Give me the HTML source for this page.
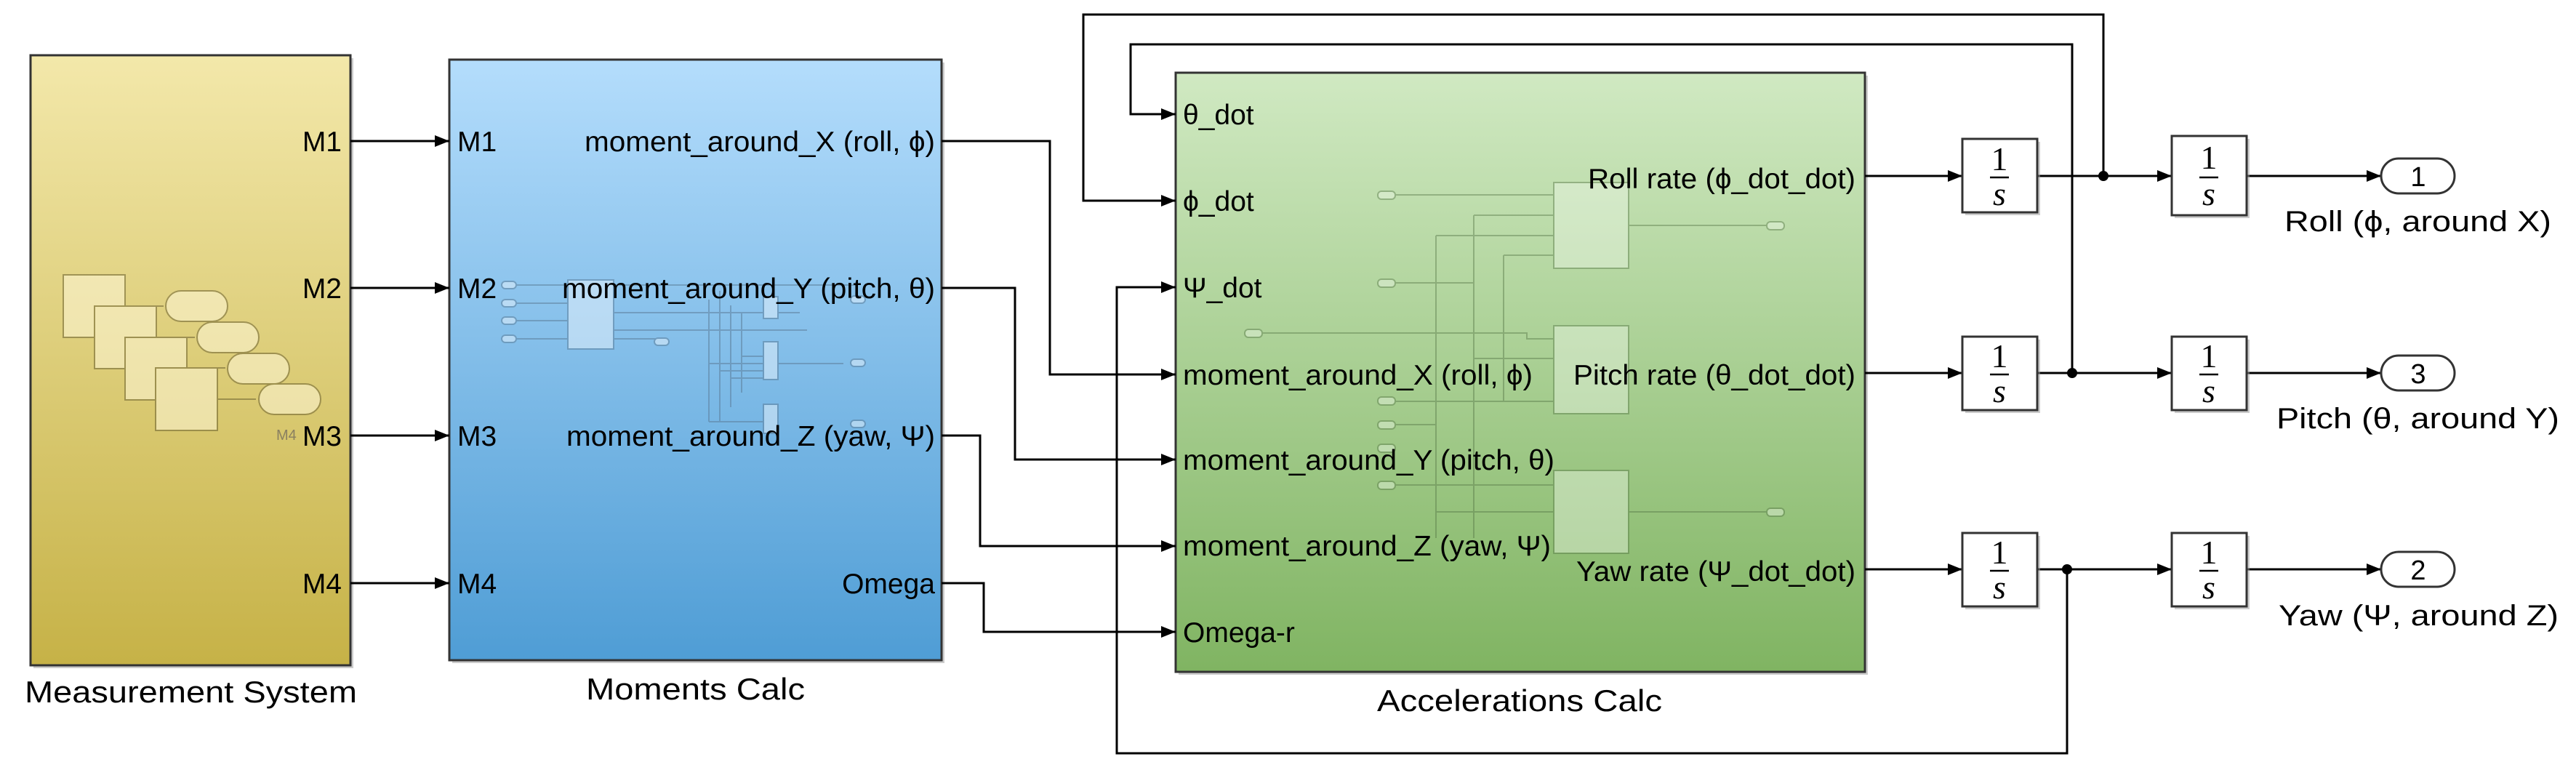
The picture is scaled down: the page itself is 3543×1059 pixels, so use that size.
<!DOCTYPE html>
<html><head><meta charset="utf-8"><style>html,body{margin:0;padding:0;background:#fff}svg{display:block}</style></head>
<body>
<svg width="3543" height="1059" viewBox="0 0 3543 1059" xmlns="http://www.w3.org/2000/svg" font-family="Liberation Sans, Arial, sans-serif">
<defs>
<linearGradient id="gy" x1="0" y1="0" x2="0" y2="1"><stop offset="0" stop-color="#f3e8aa"/><stop offset="1" stop-color="#c6b247"/></linearGradient>
<linearGradient id="gb" x1="0" y1="0" x2="0" y2="1"><stop offset="0" stop-color="#b4ddfc"/><stop offset="1" stop-color="#4f9dd5"/></linearGradient>
<linearGradient id="gg" x1="0" y1="0" x2="0" y2="1"><stop offset="0" stop-color="#d0e9c2"/><stop offset="1" stop-color="#80b462"/></linearGradient>
<marker id="ar" viewBox="0 0 20 16" refX="20" refY="8" markerWidth="20" markerHeight="16" markerUnits="userSpaceOnUse" orient="auto"><path d="M0,0 L20,8 L0,16 z" fill="#000"/></marker>
</defs>

<rect x="46" y="80" width="440" height="839" fill="#999" opacity="0.5"/>
<rect x="622" y="86" width="677" height="826" fill="#999" opacity="0.5"/>
<rect x="1621" y="104" width="948" height="824" fill="#999" opacity="0.5"/>

<rect x="42" y="76" width="440" height="839" fill="url(#gy)" stroke="#333" stroke-width="3"/>
<g opacity="0.55" stroke="#6b6030" stroke-width="2" fill="#fff8d8">
<rect x="87" y="378" width="85" height="86"/><rect x="130" y="421" width="85" height="86"/><rect x="172" y="464" width="85" height="86"/><rect x="214" y="506" width="85" height="86"/>
<rect x="228" y="400" width="85" height="42" rx="21"/><rect x="271" y="443" width="85" height="42" rx="21"/><rect x="313" y="486" width="85" height="42" rx="21"/><rect x="356" y="528" width="85" height="42" rx="21"/>
<path d="M172 421H225M215 464H268M257 506H310M299 549H352" fill="none"/>
</g>
<text x="380" y="605" font-size="20" fill="#8a8060">M4</text>
<g font-size="39" text-anchor="end" fill="#000">
<text x="470" y="208">M1</text><text x="470" y="410">M2</text><text x="470" y="613">M3</text><text x="470" y="816">M4</text>
</g>
<text x="34" y="966" font-size="42" textLength="457" lengthAdjust="spacingAndGlyphs">Measurement System</text>

<rect x="618" y="82" width="677" height="826" fill="url(#gb)" stroke="#333" stroke-width="3"/>
<g opacity="0.5" stroke="#5a7a95" stroke-width="2" fill="#eaf4fc">
<path d="M700 392H1180M700 417H781M700 441H781M700 466H781M844 430H1100M844 454H1110M844 466H910M975 412V580M990 400V580M1005 420V560M1020 430V540M975 500H1050M990 510H1050M1005 520H1050M1020 490H1050M1060 500H1160M975 580H1050" fill="none"/>
<rect x="781" y="385" width="63" height="95"/>
<rect x="1050" y="408" width="20" height="30"/><rect x="1050" y="470" width="20" height="52"/><rect x="1050" y="556" width="20" height="40"/>
<rect x="690" y="387" width="20" height="10" rx="5"/><rect x="690" y="412" width="20" height="10" rx="5"/><rect x="690" y="436" width="20" height="10" rx="5"/><rect x="690" y="461" width="20" height="10" rx="5"/><rect x="900" y="465" width="20" height="10" rx="5"/><rect x="1170" y="494" width="20" height="10" rx="5"/><rect x="1170" y="407" width="20" height="10" rx="5"/><rect x="1170" y="578" width="20" height="10" rx="5"/>
</g>
<g font-size="39" fill="#000">
<text x="629" y="208">M1</text><text x="629" y="410">M2</text><text x="629" y="613">M3</text><text x="629" y="816">M4</text>
</g>
<g font-size="39" fill="#000" text-anchor="end">
<text x="1286" y="208" textLength="482" lengthAdjust="spacingAndGlyphs">moment_around_X (roll, ϕ)</text>
<text x="1286" y="410" textLength="513" lengthAdjust="spacingAndGlyphs">moment_around_Y (pitch, θ)</text>
<text x="1286" y="613" textLength="507" lengthAdjust="spacingAndGlyphs">moment_around_Z (yaw, Ψ)</text>
<text x="1286" y="816">Omega</text>
</g>
<text x="806" y="962" font-size="42" textLength="301" lengthAdjust="spacingAndGlyphs">Moments Calc</text>

<rect x="1617" y="100" width="948" height="824" fill="url(#gg)" stroke="#333" stroke-width="3"/>
<g opacity="0.4" stroke="#4f6f40" stroke-width="2" fill="#f2faee">
<path d="M1910 268H2137M2027 296H2137M1975 324H2137M2068 351H2137M1728 458H2100V466H2137M2027 296V740M1975 324V740M2068 351V552M1910 389H2027M1910 552H2137M1910 584H1975M1910 667H2137M1975 704H2137M2240 310H2440M2240 704H2440M2027 493H2137" fill="none"/>
<rect x="2137" y="251" width="103" height="118"/><rect x="2137" y="448" width="103" height="121"/><rect x="2137" y="647" width="103" height="114"/>
<rect x="1895" y="263" width="24" height="11" rx="5"/><rect x="1895" y="384" width="24" height="11" rx="5"/><rect x="1712" y="453" width="24" height="11" rx="5"/><rect x="1895" y="546" width="24" height="11" rx="5"/><rect x="1895" y="579" width="24" height="11" rx="5"/><rect x="1895" y="611" width="24" height="11" rx="5"/><rect x="1895" y="662" width="24" height="11" rx="5"/><rect x="2430" y="305" width="24" height="11" rx="5"/><rect x="2430" y="699" width="24" height="11" rx="5"/>
</g>
<g font-size="39" fill="#000">
<text x="1627" y="171">θ_dot</text>
<text x="1627" y="290">ϕ_dot</text>
<text x="1627" y="409">Ψ_dot</text>
<text x="1627" y="529" textLength="481" lengthAdjust="spacingAndGlyphs">moment_around_X (roll, ϕ)</text>
<text x="1627" y="646" textLength="511" lengthAdjust="spacingAndGlyphs">moment_around_Y (pitch, θ)</text>
<text x="1627" y="764" textLength="506" lengthAdjust="spacingAndGlyphs">moment_around_Z (yaw, Ψ)</text>
<text x="1627" y="883">Omega-r</text>
</g>
<g font-size="39" fill="#000" text-anchor="end">
<text x="2552" y="259" textLength="368" lengthAdjust="spacingAndGlyphs">Roll rate (ϕ_dot_dot)</text>
<text x="2552" y="529" textLength="388" lengthAdjust="spacingAndGlyphs">Pitch rate (θ_dot_dot)</text>
<text x="2552" y="799" textLength="384" lengthAdjust="spacingAndGlyphs">Yaw rate (Ψ_dot_dot)</text>
</g>
<text x="1894" y="978" font-size="42" textLength="392" lengthAdjust="spacingAndGlyphs">Accelerations Calc</text>

<g stroke="#000" stroke-width="3" fill="none">
<path d="M482 194H618" marker-end="url(#ar)"/>
<path d="M482 396H618" marker-end="url(#ar)"/>
<path d="M482 599H618" marker-end="url(#ar)"/>
<path d="M482 802H618" marker-end="url(#ar)"/>
<path d="M1295 194H1444V515H1617" marker-end="url(#ar)"/>
<path d="M1295 396H1396V632H1617" marker-end="url(#ar)"/>
<path d="M1295 599H1348V751H1617" marker-end="url(#ar)"/>
<path d="M1295 802H1353V869H1617" marker-end="url(#ar)"/>
<path d="M2565 242H2699" marker-end="url(#ar)"/>
<path d="M2565 513H2699" marker-end="url(#ar)"/>
<path d="M2565 783H2699" marker-end="url(#ar)"/>
<path d="M2802 242H2987" marker-end="url(#ar)"/>
<path d="M2802 513H2987" marker-end="url(#ar)"/>
<path d="M2802 783H2987" marker-end="url(#ar)"/>
<path d="M3090 242H3275" marker-end="url(#ar)"/>
<path d="M3090 513H3275" marker-end="url(#ar)"/>
<path d="M3090 783H3275" marker-end="url(#ar)"/>
<path d="M2893 242V20H1490V276H1617" marker-end="url(#ar)"/>
<path d="M2850 513V61H1555V157H1617" marker-end="url(#ar)"/>
<path d="M2843 783V1036H1536V395H1617" marker-end="url(#ar)"/>
</g>
<g fill="#000"><circle cx="2893" cy="242" r="7"/><circle cx="2850" cy="513" r="7"/><circle cx="2843" cy="783" r="7"/></g>

<g fill="#999" opacity="0.5"><rect x="2703" y="195" width="103" height="101"/><rect x="2991" y="191" width="103" height="109"/><rect x="2703" y="467" width="103" height="101"/><rect x="2991" y="467" width="103" height="101"/><rect x="2703" y="737" width="103" height="101"/><rect x="2991" y="737" width="103" height="101"/></g>
<g fill="#fff" stroke="#333" stroke-width="3">
<rect x="2699" y="191" width="103" height="101"/><rect x="2987" y="187" width="103" height="109"/>
<rect x="2699" y="463" width="103" height="101"/><rect x="2987" y="463" width="103" height="101"/>
<rect x="2699" y="733" width="103" height="101"/><rect x="2987" y="733" width="103" height="101"/>
</g>
<g font-family="Liberation Serif, serif" font-size="46" text-anchor="middle" fill="#000">
<text x="2750" y="234">1</text><text x="2750" y="282" font-style="italic">s</text>
<text x="3038" y="232">1</text><text x="3038" y="282" font-style="italic">s</text>
<text x="2750" y="505">1</text><text x="2750" y="553" font-style="italic">s</text>
<text x="3038" y="505">1</text><text x="3038" y="553" font-style="italic">s</text>
<text x="2750" y="775">1</text><text x="2750" y="823" font-style="italic">s</text>
<text x="3038" y="775">1</text><text x="3038" y="823" font-style="italic">s</text>
</g>
<g stroke="#000" stroke-width="2.5"><path d="M2737 244H2763M3025 244H3051M2737 515H2763M3025 515H3051M2737 785H2763M3025 785H3051"/></g>

<g fill="#fff" stroke="#333" stroke-width="3">
<rect x="3275" y="218" width="101" height="48" rx="24"/>
<rect x="3275" y="489" width="101" height="48" rx="24"/>
<rect x="3275" y="759" width="101" height="48" rx="24"/>
</g>
<g font-size="38" text-anchor="middle" fill="#000">
<text x="3326" y="256">1</text><text x="3326" y="527">3</text><text x="3326" y="797">2</text>
</g>
<g font-size="40" fill="#000">
<text x="3142" y="318" textLength="367" lengthAdjust="spacingAndGlyphs">Roll (ϕ, around X)</text>
<text x="3131" y="589" textLength="389" lengthAdjust="spacingAndGlyphs">Pitch (θ, around Y)</text>
<text x="3134" y="860" textLength="385" lengthAdjust="spacingAndGlyphs">Yaw (Ψ, around Z)</text>
</g>
</svg>
</body></html>
